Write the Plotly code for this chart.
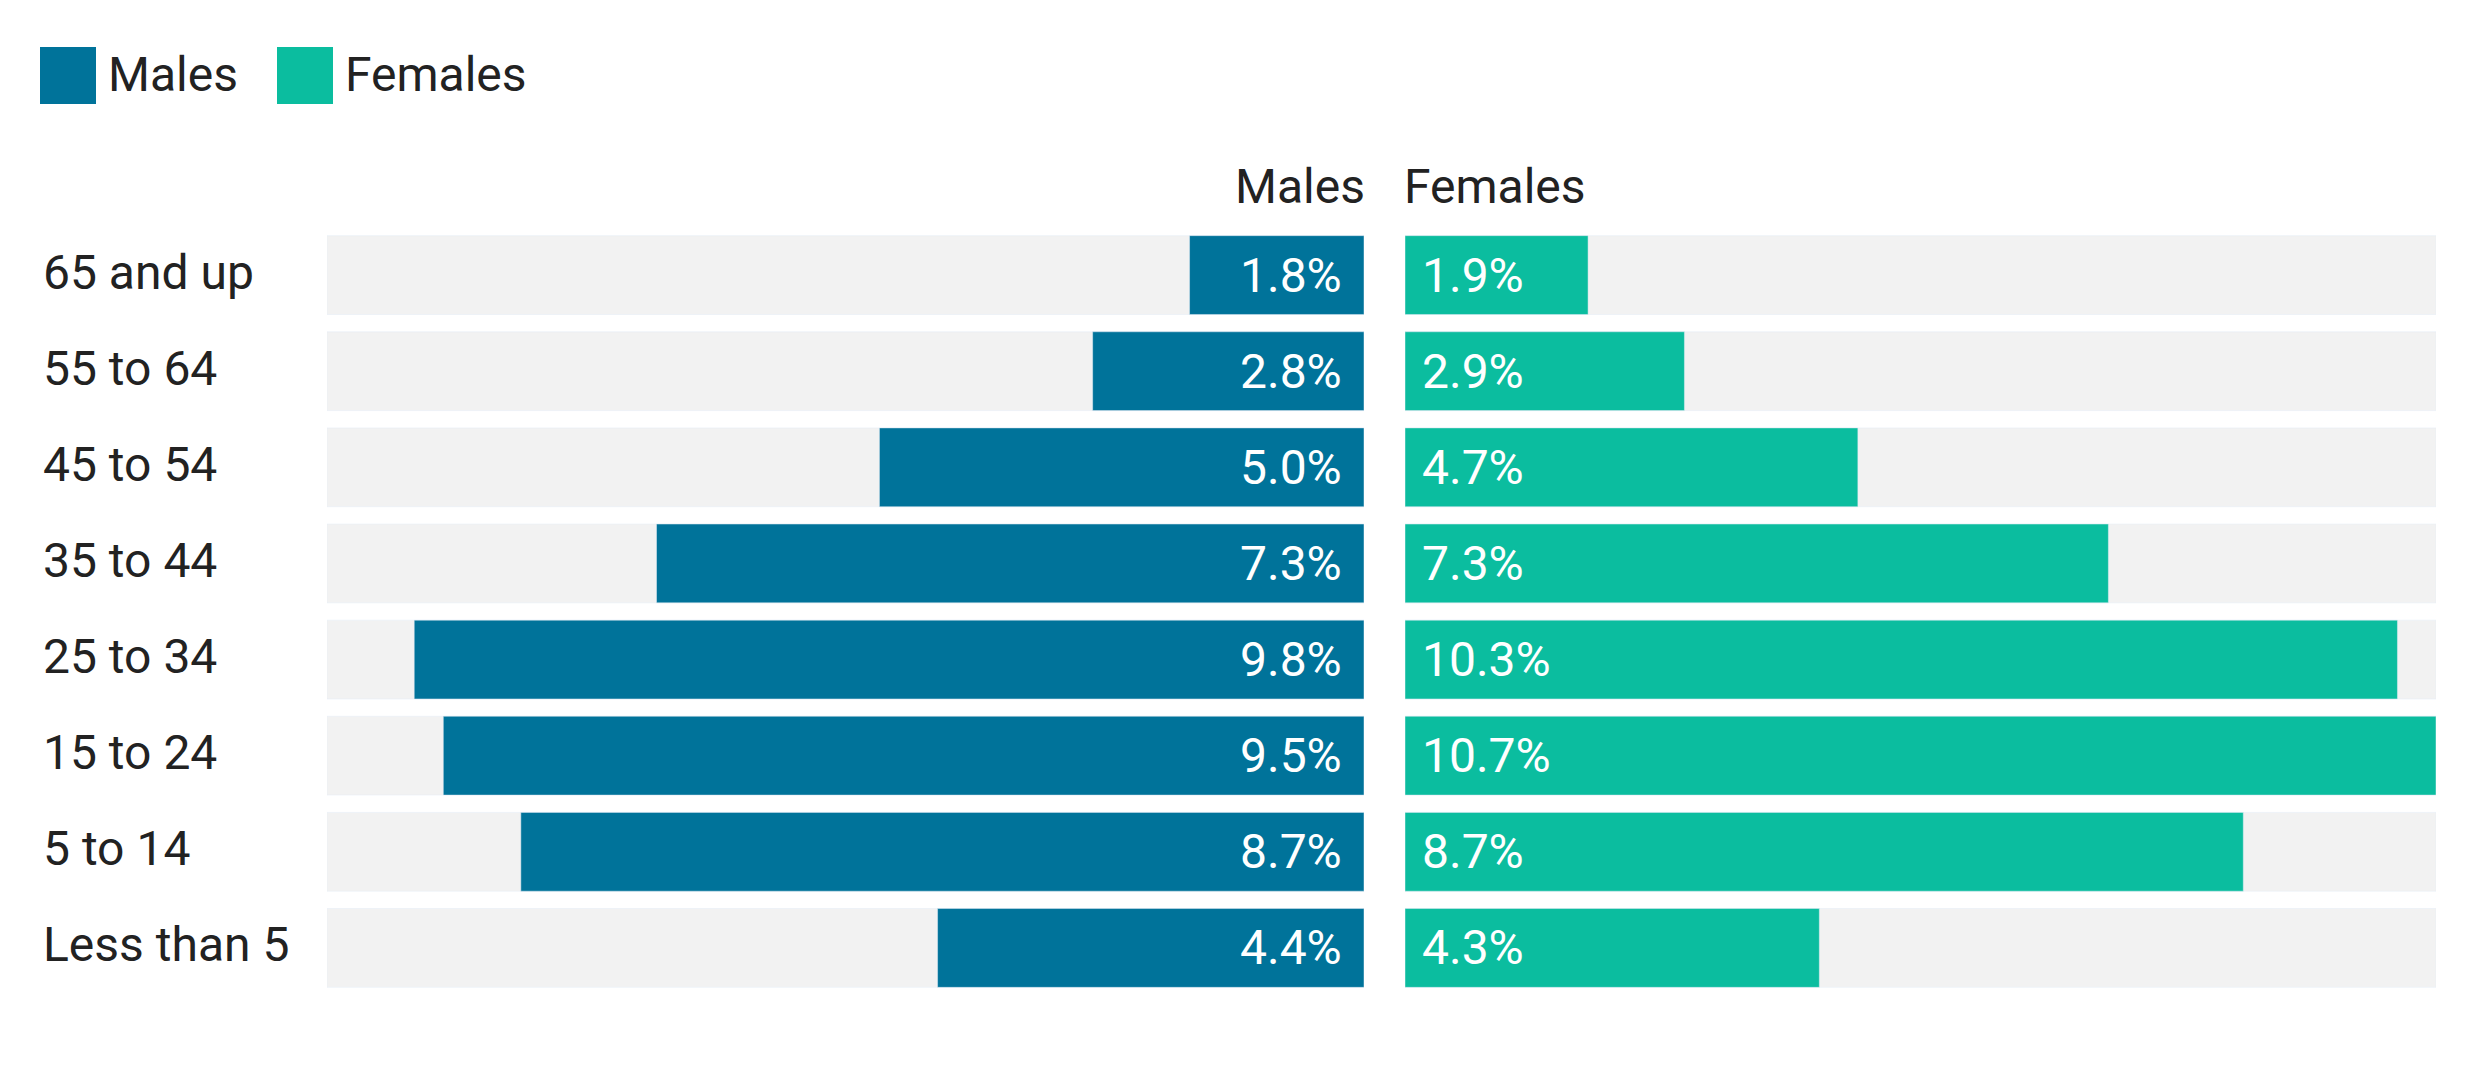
import plotly.graph_objects as go

# data (share of population, %)
age_groups = ["65 and up", "55 to 64", "45 to 54", "35 to 44",
              "25 to 34", "15 to 24", "5 to 14", "Less than 5"]
males = [1.8, 2.8, 5.0, 7.3, 9.8, 9.5, 8.7, 4.4]
females = [1.9, 2.9, 4.7, 7.3, 10.3, 10.7, 8.7, 4.3]

MALE_C = "#00739a"
FEMALE_C = "#0bbd9f"
BG_C = "#f2f2f2"
TXT_C = "#222222"
FONT = "Roboto, Arial, sans-serif"
FS = 48

W, H = 2480, 1074
OFF = 8  # page body margin pushes the figure 8px right/down
vmax = max(males + females)
track = [vmax] * len(age_groups)


def px(x):
    return (x - OFF) / W


def py(y):
    return 1 - (y - OFF) / H


fig = go.Figure()

# grey tracks + value bars, males on x (reversed), females on x2
for vals, color, xa in ((males, MALE_C, "x"), (females, FEMALE_C, "x2")):
    fig.add_trace(go.Bar(y=age_groups, x=track, orientation="h", xaxis=xa, yaxis="y",
                         marker_color=BG_C, width=0.82, hoverinfo="skip", showlegend=False))
    fig.add_trace(go.Bar(y=age_groups, x=vals, orientation="h", xaxis=xa, yaxis="y",
                         marker_color=color, width=0.82, showlegend=False))

# value labels at the base of each bar
for cat, m, f in zip(age_groups, males, females):
    fig.add_annotation(x=0, y=cat, xref="x", yref="y", text=f"{m:.1f}%",
                       xanchor="right", xshift=-20, showarrow=False,
                       font=dict(family=FONT, size=FS, color="white"))
    fig.add_annotation(x=0, y=cat, xref="x2", yref="y", text=f"{f:.1f}%",
                       xanchor="left", xshift=15, showarrow=False,
                       font=dict(family=FONT, size=FS, color="white"))
    # category label at the far left
    fig.add_annotation(x=px(41), y=cat, xref="paper", yref="y", text=cat,
                       xanchor="left", yshift=3, showarrow=False,
                       font=dict(family=FONT, size=FS, color=TXT_C))

# panel headers
fig.add_annotation(x=0, y=py(187), xref="x", yref="paper", text="Males",
                   xanchor="right", yanchor="middle", xshift=3, showarrow=False,
                   font=dict(family=FONT, size=FS, color=TXT_C))
fig.add_annotation(x=0, y=py(187), xref="x2", yref="paper", text="Females",
                   xanchor="left", yanchor="middle", xshift=-3, showarrow=False,
                   font=dict(family=FONT, size=FS, color=TXT_C))

# hand-made legend (plotly clamps legend swatch size)
for x0, color, label in ((40, MALE_C, "Males"), (277, FEMALE_C, "Females")):
    fig.add_shape(type="rect", xref="paper", yref="paper",
                  x0=px(x0), x1=px(x0 + 56), y0=py(104), y1=py(47),
                  fillcolor=color, line_width=0)
    fig.add_annotation(x=px(x0 + 66), y=py(75), xref="paper", yref="paper",
                       text=label, xanchor="left", yanchor="middle", showarrow=False,
                       font=dict(family=FONT, size=FS, color=TXT_C))

axis_common = dict(showgrid=False, zeroline=False, showticklabels=False,
                   showline=False, fixedrange=True)
fig.update_layout(
    width=W, height=H,
    margin=dict(l=0, r=0, t=0, b=0),
    paper_bgcolor="white", plot_bgcolor="white",
    barmode="overlay", showlegend=False,
    xaxis=dict(domain=[px(327), px(1364)], range=[vmax, 0], **axis_common),
    xaxis2=dict(domain=[px(1405), px(2436)], range=[0, vmax], **axis_common),
    yaxis=dict(domain=[py(996), py(227)], autorange="reversed",
               categoryorder="array", categoryarray=age_groups, **axis_common),
    font=dict(family=FONT, color=TXT_C),
)

fig.write_html("out.html")
